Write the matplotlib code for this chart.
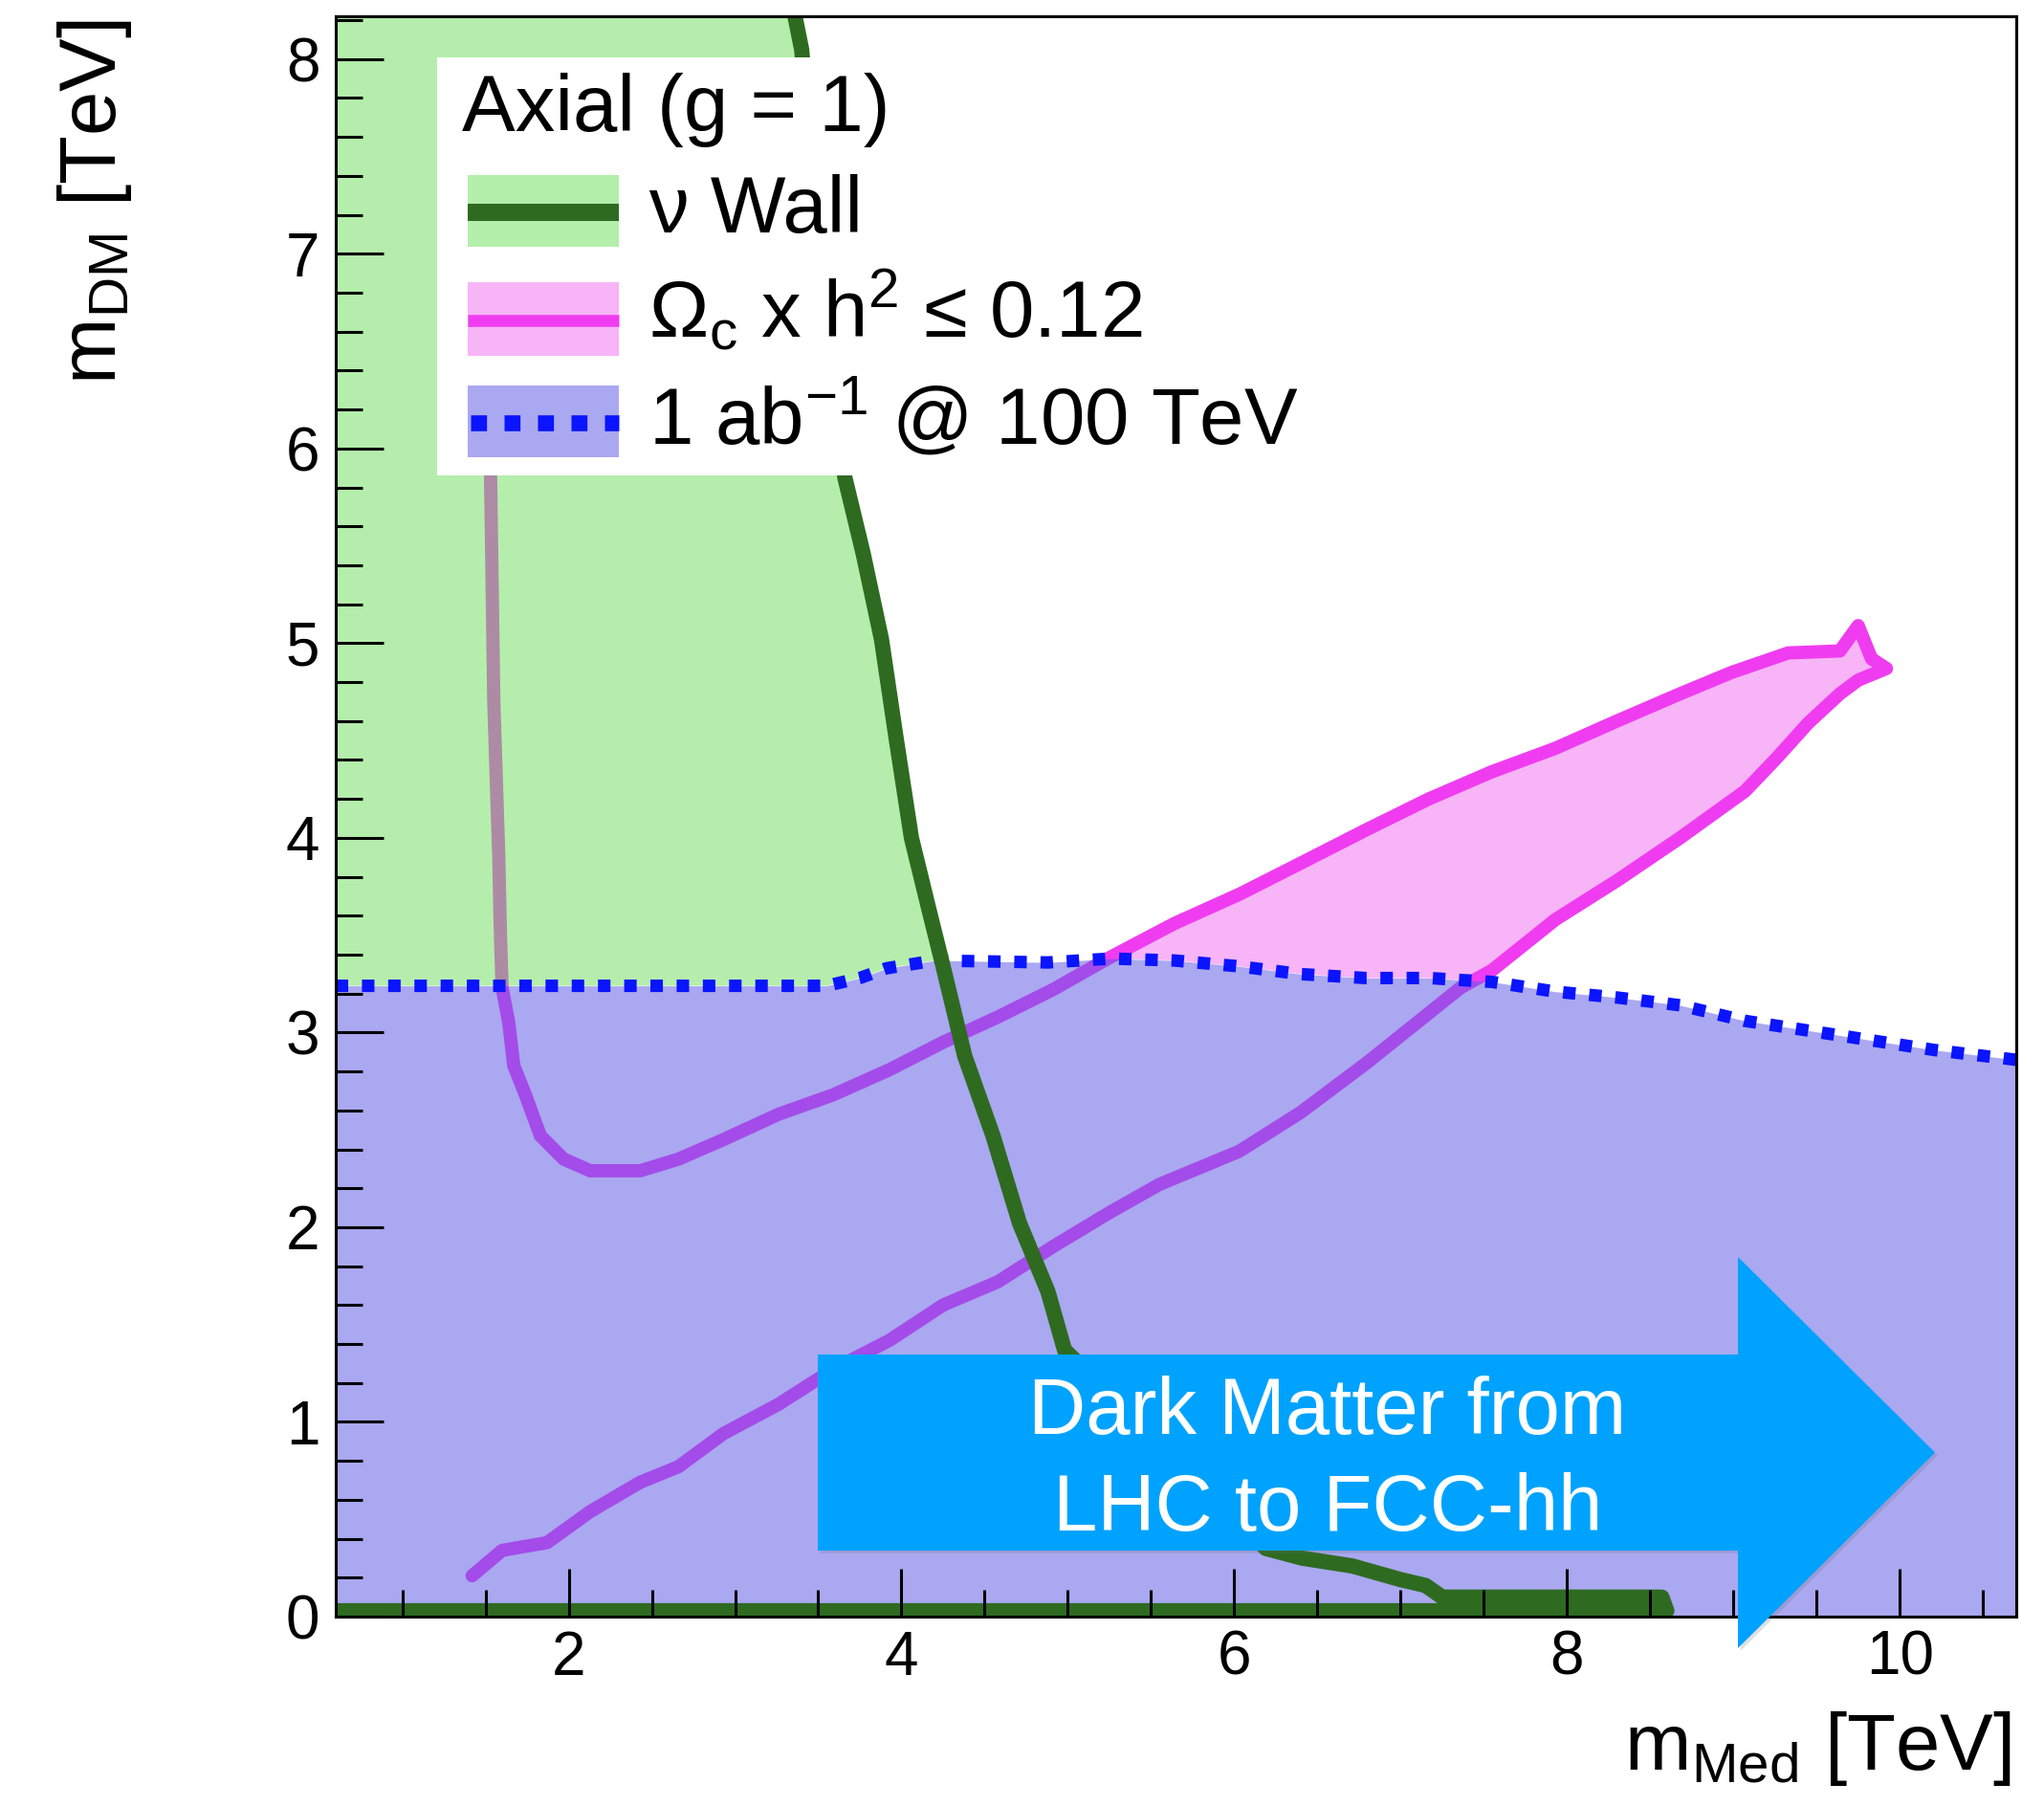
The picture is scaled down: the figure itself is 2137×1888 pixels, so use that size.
import numpy as np
import matplotlib
matplotlib.use("Agg")
import matplotlib.pyplot as plt
from matplotlib.patches import Polygon, Rectangle, FancyArrow
from matplotlib.lines import Line2D
import matplotlib.patheffects as pe

plt.rcParams['font.family'] = ['Liberation Sans', 'DejaVu Sans']
plt.rcParams['mathtext.fontset'] = 'custom'
plt.rcParams['mathtext.rm'] = 'Liberation Sans'
plt.rcParams['mathtext.it'] = 'Liberation Sans:italic'
plt.rcParams['mathtext.bf'] = 'Liberation Sans:bold'

# ---------------- data (TeV) ----------------
XMIN, XMAX = 0.6, 10.7
YMIN, YMAX = 0.0, 8.22

# neutrino wall contour
nu_x = [3.36, 3.40, 3.52, 3.66, 3.77, 3.88, 3.97, 4.06, 4.16, 4.25, 4.38, 4.55,
        4.71, 4.88, 4.98, 6.19, 6.41, 6.71, 7.00, 7.15, 7.25, 7.60, 8.00, 8.57,
        8.60, 0.60]
nu_y = [8.22, 8.05, 7.00, 5.85, 5.46, 5.02, 4.50, 4.00, 3.65, 3.34, 2.88, 2.47,
        2.02, 1.67, 1.37, 0.35, 0.30, 0.26, 0.19, 0.16, 0.10, 0.10, 0.10, 0.10,
        0.03, 0.03]

# relic density contour: left branch + U + upper branch
om_up_x = [1.52, 1.53, 1.55, 1.58, 1.59, 1.60, 1.64, 1.67, 1.74, 1.83, 1.97, 2.13,
           2.43, 2.66, 2.93, 3.26, 3.59, 3.93, 4.25, 4.58, 4.91, 5.24, 5.64, 6.03,
           6.40, 6.79, 7.17, 7.55, 7.93, 8.30, 8.68, 8.99, 9.33, 9.64, 9.75, 9.83,
           9.92, 9.75]
om_up_y = [7.00, 5.90, 4.70, 3.90, 3.50, 3.23, 3.05, 2.83, 2.68, 2.47, 2.35, 2.29,
           2.29, 2.35, 2.45, 2.58, 2.68, 2.81, 2.95, 3.08, 3.22, 3.38, 3.56, 3.71,
           3.87, 4.04, 4.20, 4.34, 4.46, 4.60, 4.74, 4.85, 4.95, 4.96, 5.09, 4.92,
           4.87, 4.81]
# lower branch (from the tip down)
om_lo_x = [9.64, 9.45, 9.26, 9.07, 8.68, 8.30, 7.93, 7.55, 7.36, 6.79, 6.40, 6.03,
           5.55, 5.24, 4.91, 4.58, 4.25, 3.93, 3.59, 3.26, 2.93, 2.66, 2.43, 2.13,
           1.87, 1.60, 1.42]
om_lo_y = [4.74, 4.59, 4.41, 4.24, 4.00, 3.78, 3.58, 3.32, 3.23, 2.84, 2.59, 2.39,
           2.22, 2.07, 1.90, 1.72, 1.60, 1.42, 1.27, 1.09, 0.94, 0.77, 0.69, 0.54,
           0.38, 0.34, 0.21]

# 1 ab^-1 @ 100 TeV reach
reach_x = [0.60, 1.00, 2.00, 3.00, 3.55, 3.75, 3.91, 4.20, 4.88, 5.26, 5.64, 6.03,
           6.40, 6.79, 7.17, 7.55, 7.93, 8.30, 8.68, 9.07, 9.45, 9.83, 10.21, 10.70]
reach_y = [3.24, 3.24, 3.24, 3.24, 3.24, 3.28, 3.33, 3.37, 3.36, 3.38, 3.37, 3.34,
           3.30, 3.28, 3.28, 3.26, 3.21, 3.18, 3.14, 3.06, 3.01, 2.96, 2.91, 2.86]

x_major = [2, 4, 6, 8, 10]
x_major_labels = ['2', '4', '6', '8', '10']
y_major = [0, 1, 2, 3, 4, 5, 6, 7, 8]
y_major_labels = ['0', '1', '2', '3', '4', '5', '6', '7', '8']

legend_title = 'Axial (g = 1)'
legend_labels = ['ν Wall', r'Ω$_{\mathrm{c}}$ x h$^{\mathrm{2}}$ ≤ 0.12',
                 r'1 ab$^{\mathrm{-1}}$ @ 100 TeV']
arrow_lines = ['Dark Matter from', 'LHC to FCC-hh']

# ---------------- style ----------------
W, H, DPI = 2137, 1888, 100
GREEN_FILL = (104 / 255, 222 / 255, 86 / 255)
BLUE_FILL = (96 / 255, 92 / 255, 227 / 255)
PINK = '#f7b4f7'
MAGENTA = '#f03cf0'
DKGREEN = '#2e6b21'
BLUE_LINE = '#0a14ff'
ARROW = '#00a2ff'

fig = plt.figure(figsize=(W / DPI, H / DPI), dpi=DPI)
ax = fig.add_axes([351 / W, 1 - 1690 / H, (2108 - 351) / W, (1690 - 17) / H])
ax.set_xlim(XMIN, XMAX)
ax.set_ylim(YMIN, YMAX)
ax.set_axisbelow(False)

# region above the reach curve, used for clipping
above = Polygon(np.column_stack([np.r_[reach_x, reach_x[-1], reach_x[0]],
                                 np.r_[reach_y, YMAX + 1, YMAX + 1]]),
                closed=True, transform=ax.transData)

# relic density allowed band
pink = ax.fill(np.r_[om_up_x[11:], om_lo_x], np.r_[om_up_y[11:], om_lo_y],
               color=PINK, lw=0, zorder=1.0)[0]
pink.set_clip_path(above)
ax.plot(np.r_[om_up_x, om_lo_x], np.r_[om_up_y, om_lo_y], color=MAGENTA, lw=10,
        solid_joinstyle='round', solid_capstyle='round', zorder=1.2)

# neutrino wall fill
gfill = ax.fill(np.r_[nu_x, XMIN], np.r_[nu_y, YMAX], color=GREEN_FILL, alpha=0.49,
                lw=0, zorder=1.4)[0]
gfill.set_clip_path(above)

# reach
ax.fill_between(reach_x, 0, reach_y, color=BLUE_FILL, alpha=0.53, lw=0, zorder=1.6)
ax.plot(reach_x, reach_y, color=BLUE_LINE, lw=9.4, ls=(0, (1, 1.1)),
        dash_capstyle='butt', zorder=1.8)

# neutrino wall line
ax.plot(nu_x, nu_y, color=DKGREEN, lw=11.5, solid_joinstyle='round',
        solid_capstyle='butt', zorder=2.2)

# axes styling
ax.set_xticks(x_major)
ax.set_xticklabels(x_major_labels)
ax.set_xticks(np.arange(1.0, 10.71, 0.5), minor=True)
ax.set_yticks(y_major)
ax.set_yticklabels(y_major_labels)
ax.set_yticks(np.arange(0, 8.21, 0.2), minor=True)
ax.tick_params(which='both', direction='in', top=False, right=False, width=2.2,
               color='black')
ax.tick_params(which='major', length=36, labelsize=46)
ax.tick_params(which='minor', length=20)
ax.tick_params(axis='x', which='major', pad=10)
ax.tick_params(axis='y', which='major', pad=12)
for s in ax.spines.values():
    s.set_linewidth(2.2)

ax.set_xlabel(r'm$_{\mathrm{Med}}$ [TeV]', fontsize=60, loc='right')
ax.xaxis.set_label_coords(0.997, -0.058)
ax.set_ylabel(r'm$_{\mathrm{DM}}$ [TeV]', fontsize=60, loc='top')
ax.yaxis.set_label_coords(-0.120, 0.998)


# ---------------- legend (drawn in figure pixels) ----------------
def fx(px):
    return px / W


def fy(py):
    return 1 - py / H


fig.add_artist(Rectangle((fx(457), fy(497)), fx(1360) - fx(457), fy(60) - fy(497),
                         transform=fig.transFigure, facecolor='white',
                         edgecolor='none', zorder=5))
fig.text(fx(483), fy(137), legend_title, fontsize=60, ha='left', va='baseline',
         zorder=6)
rows = [(183, 258, '#b5efac'), (295, 372, PINK), (403, 478, '#aaa8f0')]
baselines = [243, 352, 465]
for i, (t, b, c) in enumerate(rows):
    fig.add_artist(Rectangle((fx(489), fy(b)), fx(647) - fx(489), fy(t) - fy(b),
                             transform=fig.transFigure, facecolor=c,
                             edgecolor='none', zorder=6))
    yc = fy((t + b) / 2 + 1)
    if i == 0:
        ln = Line2D([fx(489), fx(647)], [yc, yc], color=DKGREEN, lw=13,
                    solid_capstyle='butt', transform=fig.transFigure, zorder=7)
    elif i == 1:
        ln = Line2D([fx(489), fx(647)], [yc, yc], color=MAGENTA, lw=9,
                    solid_capstyle='butt', transform=fig.transFigure, zorder=7)
    else:
        ln = Line2D([fx(492), fx(647)], [yc, yc], color=BLUE_LINE, lw=12,
                    ls=(0, (1, 1.1)), dash_capstyle='butt',
                    transform=fig.transFigure, zorder=7)
    fig.add_artist(ln)
    fig.text(fx(678), fy(baselines[i]), legend_labels[i], fontsize=60, ha='left',
             va='baseline', zorder=7)

# ---------------- arrow annotation ----------------
arr = FancyArrow(855 / DPI, (H - 1518.5) / DPI, (2023 - 855) / DPI, 0,
                 width=205 / DPI, head_width=409 / DPI, head_length=206 / DPI,
                 length_includes_head=True, transform=fig.dpi_scale_trans,
                 facecolor=ARROW, edgecolor='none', zorder=8)
arr.set_path_effects([pe.SimplePatchShadow(offset=(2, -2), shadow_rgbFace='0.4',
                                           alpha=0.2), pe.Normal()])
fig.add_artist(arr)
fig.text(fx(1388), fy(1499), arrow_lines[0], color='white', fontsize=60,
         ha='center', va='baseline', zorder=9)
fig.text(fx(1388), fy(1600), arrow_lines[1], color='white', fontsize=60,
         ha='center', va='baseline', zorder=9)

fig.savefig('out.png', dpi=DPI, facecolor='white')
